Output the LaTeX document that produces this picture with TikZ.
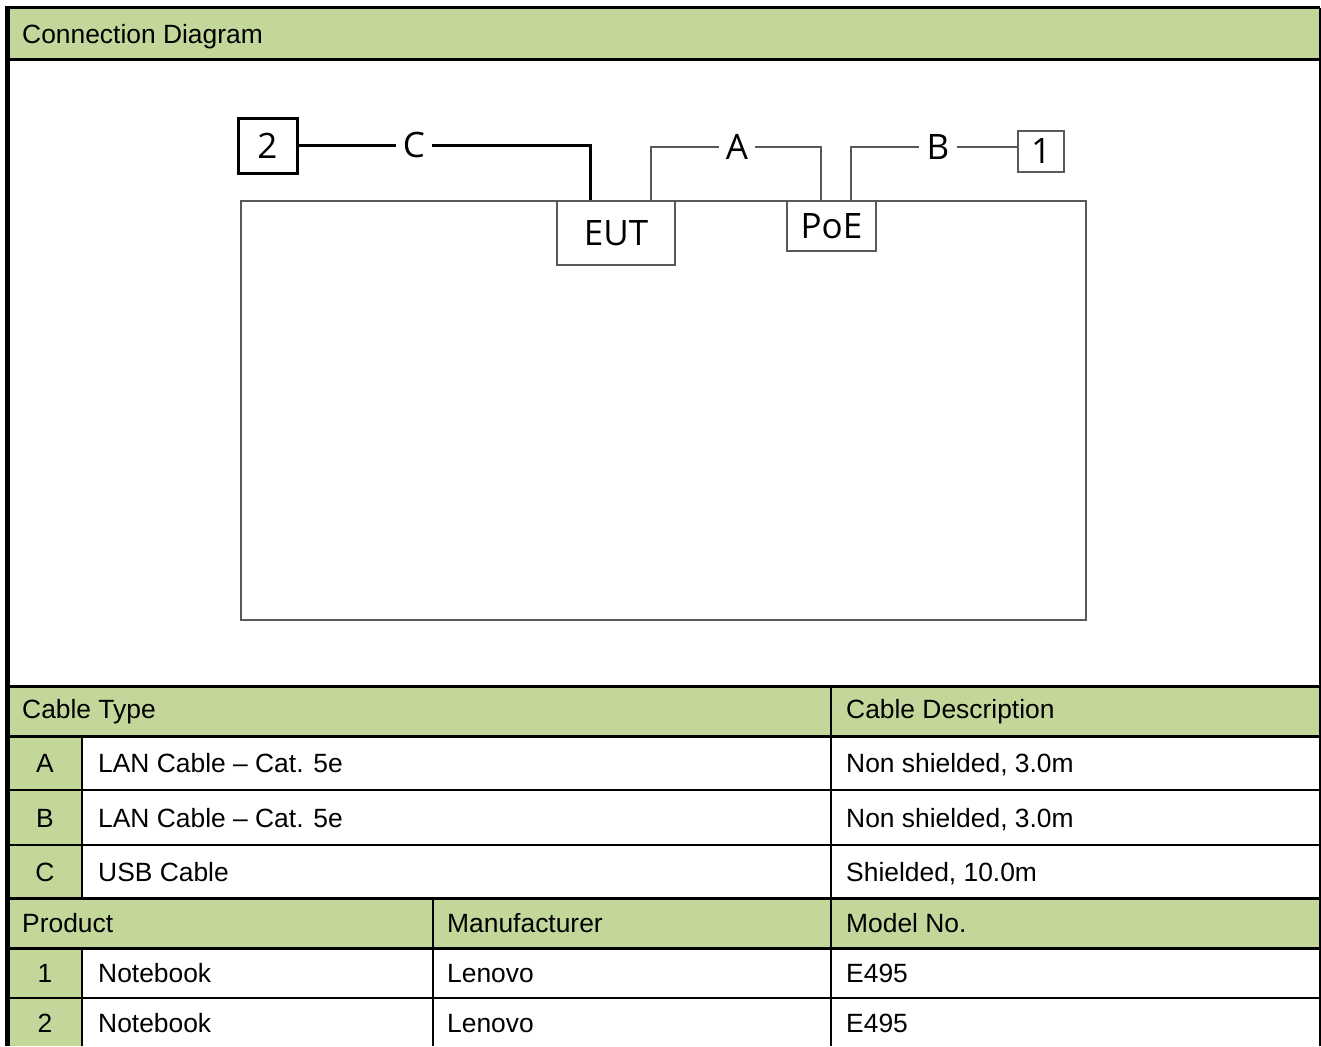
\documentclass[tikz,border=0pt]{standalone}
\usepackage{fontspec}
\setmainfont{Liberation Sans}
\newfontfamily\sketchfamily{Open Sans}
\usepackage{xcolor}
\usepackage{tikz}
\usetikzlibrary{calc, positioning}

\definecolor{headgreen}{RGB}{196,215,155}
\definecolor{wiregray}{RGB}{89,89,89}

\newcommand{\tabtextfont}{\fontsize{26.4}{31}\selectfont}
\newcommand{\unitfont}{\sketchfamily\fontsize{35}{40}\selectfont}

\tikzset{
	wire/.style={draw=wiregray, line width=2pt},
	usb wire/.style={draw=black, line width=3pt},
	unit/.style={draw=wiregray, line width=2pt, inner sep=0pt, font=\unitfont},
	wire label/.style={inner sep=0pt, inner xsep=7pt, font=\unitfont},
	cell/.style={anchor=base west, inner sep=0pt, font=\tabtextfont},
	index cell/.style={anchor=base, inner sep=0pt, font=\tabtextfont}
}

\begin{document}
\begin{tikzpicture}[x=1pt, y=-1pt]
			\def\xl{8};
			\def\xi{82};
			\def\xm{433};
			\def\xr{831};
			\def\W{1320};

			\useasboundingbox (0,0) rectangle (1321,1046);

			% green bands
			\begin{scope}
				\fill [headgreen] (\xl,8) rectangle (\W,60);
				\fill [headgreen] (\xl,686) rectangle (\W,736);
				\fill [headgreen] (\xl,898) rectangle (\W,948);
				\fill [headgreen] (\xl,736) rectangle (\xi,898);
				\fill [headgreen] (\xl,948) rectangle (\xi,1046);
			\end{scope}

			% table rules
			\begin{scope}[line width=3pt]
				\draw (\xl,8) -- (\W,8);
				\draw (\xl,60) -- (\W,60);
				\draw (\xl,686) -- (\W,686);
				\draw (\xl,736) -- (\W,736);
				\draw (\xl,898) -- (\W,898);
				\draw (\xl,948) -- (\W,948);
			\end{scope}
			\begin{scope}[line width=2pt]
				\draw (\xl,790) -- (\W,790);
				\draw (\xl,845) -- (\W,845);
				\draw (\xl,998) -- (\W,998);
				\draw (\xi,736) -- (\xi,898);
				\draw (\xi,948) -- (\xi,1046);
				\draw (\xr,686) -- (\xr,1046);
				\draw (\xm,898) -- (\xm,1046);
				\draw (1319.5,8) -- (1319.5,1046);
			\end{scope}
			\draw [line width=5pt] (7.5,6) -- (7.5,1046);

			% test set-up
			\draw [wire] (241,201) rectangle (1086,620);

			\node [unit, minimum width=118pt, minimum height=64pt] (eut) at (616,233) {EUT};
			\node [unit, minimum width=89pt, minimum height=50pt] (poe) at (831.5,226) {PoE};
			\node [unit, draw=black, line width=3pt, minimum width=59pt, minimum height=54pt] (pc two) at (267.5,146) {2};
			\node [unit, minimum width=46pt, minimum height=41pt] (pc one) at (1041,151.5) {1};

			\node [wire label] (lab c) at (414,145) {C};
			\node [wire label] (lab a) at (737,147) {A};
			\node [wire label] (lab b) at (938,147) {B};

			\coordinate (eut usb) at ($ (eut.north west) + (34,0) $);
			\coordinate (eut lan) at ($ (eut.north west) + (95,0) $);
			\coordinate (poe in) at ($ (poe.north west) + (35,0) $);
			\coordinate (poe out) at ($ (poe.north west) + (65,0) $);

			\begin{scope}
				\draw [usb wire] (pc two.east |- lab c.west) -- (lab c.west);
				\draw [usb wire] (lab c.east) -| (eut usb);

				\draw [wire] (eut lan) |- (lab a.west);
				\draw [wire] (lab a.east) -| (poe in);

				\draw [wire] (poe out) |- (lab b.west);
				\draw [wire] (lab b.east) -- (lab b.east -| pc one.west);
			\end{scope}

			% texts
			\node [cell] (title) at (22,44) {Connection Diagram};

			\node [cell] (type head) at (22,718) {Cable Type};
			\node [cell] (desc head) at (846,718) {Cable Description};

			\node [index cell] (idx a) at (45,772) {A};
			\node [cell] (type a) at (98,772) {LAN Cable – Cat. 5e};
			\node [cell] (desc a) at (846,772) {Non shielded, 3.0m};

			\node [index cell] (idx b) at (45,827) {B};
			\node [cell] (type b) at (98,827) {LAN Cable – Cat. 5e};
			\node [cell] (desc b) at (846,827) {Non shielded, 3.0m};

			\node [index cell] (idx c) at (45,881) {C};
			\node [cell] (type c) at (98,881) {USB Cable};
			\node [cell] (desc c) at (846,881) {Shielded, 10.0m};

			\node [cell] (product head) at (22,932) {Product};
			\node [cell] (maker head) at (447,932) {Manufacturer};
			\node [cell] (model head) at (846,932) {Model No.};

			\node [index cell] (idx one) at (45,982) {1};
			\node [cell] (product one) at (98,982) {Notebook};
			\node [cell] (maker one) at (447,982) {Lenovo};
			\node [cell] (model one) at (846,982) {E495};

			\node [index cell] (idx two) at (45,1032) {2};
			\node [cell] (product two) at (98,1032) {Notebook};
			\node [cell] (maker two) at (447,1032) {Lenovo};
			\node [cell] (model two) at (846,1032) {E495};
		\end{tikzpicture}
\end{document}
